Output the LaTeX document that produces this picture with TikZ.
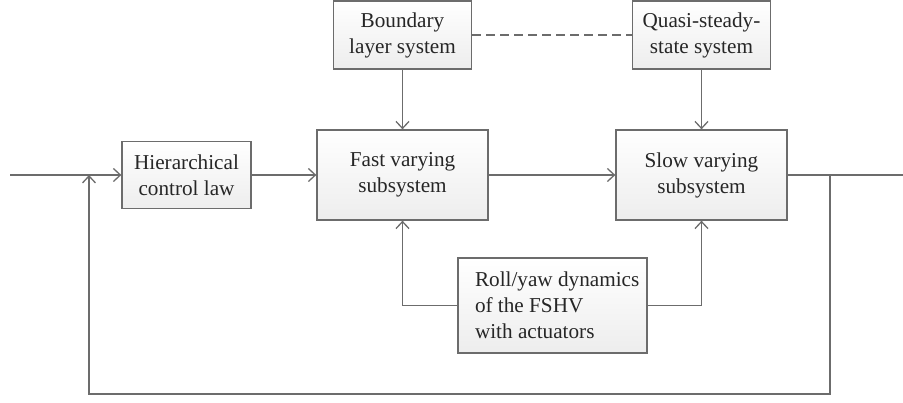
\documentclass[tikz,border=0pt]{standalone}
\usepackage{fontspec}
\setmainfont{Liberation Serif}
\usetikzlibrary{arrows.meta}
\begin{document}
\begin{tikzpicture}[x=0.5pt,y=-0.5pt,
  blk/.style={draw=gray!85!black, line width=0.65pt, top color=white, bottom color=gray!14,
    inner sep=0pt, align=center, text=black!85, font=\fontsize{10.6}{13}\selectfont},
  conn/.style={draw=gray!85!black, line width=0.65pt},
  arr/.style={conn, -{Straight Barb[length=3.5pt,width=6.5pt]}}]
\useasboundingbox (0,0) rectangle (903,402);
\node[blk, minimum width=64.5pt, minimum height=33.5pt] (hier) at (186.5,175) {Hierarchical\\control law};
\node[blk, minimum width=85.5pt, minimum height=45pt] (fast) at (402.5,175) {Fast varying\\subsystem};
\node[blk, minimum width=85.5pt, minimum height=45pt] (slow) at (701.5,175) {Slow varying\\subsystem};
\node[blk, minimum width=69pt, minimum height=34pt] (bound) at (402.5,35) {Boundary\\layer system};
\node[blk, minimum width=69pt, minimum height=34pt] (quasi) at (701.5,35) {Quasi-steady-\\state system};
\node[blk, minimum height=47.5pt, align=flush left, inner xsep=8.5pt, text width=77.5pt] (roll) at (552.5,305.5) {\mbox{Roll/yaw dynamics}\\\mbox{of the FSHV}\\\mbox{with actuators}};
\coordinate (in) at (10,175);
\coordinate (out) at (903,175);
\coordinate (fb) at (830,175);
\coordinate (fbd) at (830,394);
\coordinate (fbl) at (89,394);
\coordinate (j) at (89,175);
\draw[arr] (in) -- (hier.west);
\draw[arr] (hier.east) -- (fast.west);
\draw[arr] (fast.east) -- (slow.west);
\draw[conn] (slow.east) -- (out);
\draw[arr] (bound.south) -- (fast.north);
\draw[arr] (quasi.south) -- (slow.north);
\draw[conn, dash pattern=on 4.5pt off 2.5pt] (bound.east) -- (quasi.west);
\draw[arr] (roll.west) -| (fast.south);
\draw[arr] (roll.east) -| (slow.south);
\draw[arr] (fb) -- (fbd) -- (fbl) -- (j);
\end{tikzpicture}
\end{document}
